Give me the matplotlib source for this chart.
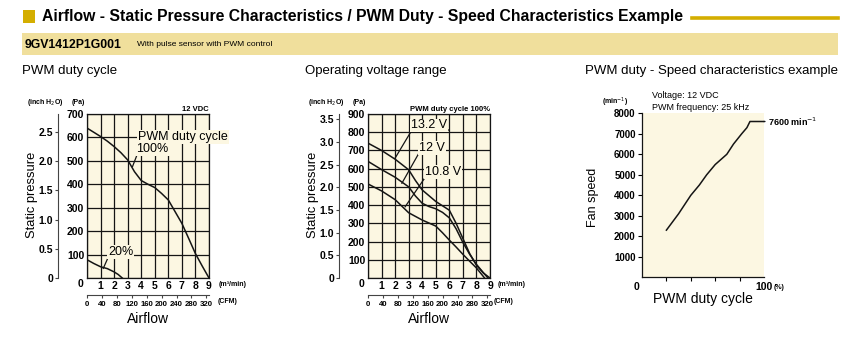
import matplotlib.pyplot as plt
from matplotlib.patches import Rectangle
from matplotlib.lines import Line2D

# --- airflow vs static pressure, 12 VDC, by PWM duty ---
flow_100 = [0, 0.5, 1, 1.5, 2, 2.5, 3, 3.5, 4, 4.5, 5, 5.5, 6, 6.5, 7, 7.5, 8, 8.5, 9]
pa_100 = [640, 622, 604, 584, 561, 535, 504, 454, 416, 400, 386, 361, 333, 283, 233, 169, 104, 51, 0]
flow_20 = [0, 0.5, 1, 1.5, 2, 2.3, 2.6]
pa_20 = [78, 62, 48, 40, 26, 15, 0]

# --- operating voltage range, PWM 100% ---
flow_132 = [0, 1, 2, 3, 3.5, 4, 5, 6, 6.5, 7, 7.5, 8, 8.5, 9]
pa_132 = [740, 700, 652, 594, 535, 483, 420, 372, 300, 217, 134, 70, 28, 0]
flow_120 = [0, 1, 2, 3, 3.5, 4, 4.5, 5, 5.5, 6, 6.5, 7, 7.5, 8, 8.5, 8.85]
pa_120 = [640, 595, 553, 500, 450, 410, 392, 380, 360, 330, 270, 195, 130, 75, 30, 0]
flow_108 = [0, 1, 2, 3, 4, 5, 5.5, 6, 6.5, 7, 7.5, 8, 8.6]
pa_108 = [516, 478, 430, 358, 318, 285, 248, 208, 170, 130, 92, 55, 0]

# --- PWM duty vs fan speed ---
duty = [20, 25, 30, 40, 47, 53, 60, 69.5, 75, 81.7, 86, 88.5, 100]
rpm = [2300, 2700, 3100, 4000, 4500, 5000, 5500, 6000, 6500, 7000, 7300, 7600, 7600]

pa_ticks = [0, 100, 200, 300, 400, 500, 600, 700]
pa_ticks_v = [0, 100, 200, 300, 400, 500, 600, 700, 800, 900]
inch_ticks = [0, 0.5, 1.0, 1.5, 2.0, 2.5]
inch_ticks_v = [0, 0.5, 1.0, 1.5, 2.0, 2.5, 3.0, 3.5]
cfm_ticks = [0, 40, 80, 120, 160, 200, 240, 280, 320]
rpm_ticks = [1000, 2000, 3000, 4000, 5000, 6000, 7000, 8000]

PA_PER_INCH = 249.09
CFM_SPAN = 327   # printed CFM scale length over the 0-9 m3/min width

W, H = 860, 343
SANS = ['Liberation Sans', 'DejaVu Sans']
CREAM = '#FCF7E2'
GOLD = '#D4AE00'
BAND = '#F0DF9C'
INK = '#151515'


def fx(x):
    return x / W


def fy(y):
    return 1 - y / H


def bold_ticks(ax, size=7.5):
    for lbl in ax.get_xticklabels() + ax.get_yticklabels():
        lbl.set_fontfamily(SANS)
        lbl.set_fontweight('bold')
        lbl.set_fontsize(size)


fig = plt.figure(figsize=(8.6, 3.43), dpi=100)

# header
fig.add_artist(Rectangle((fx(22.7), fy(23)), 12.3 / W, 13 / H,
                         transform=fig.transFigure, color=GOLD, lw=0))
fig.text(fx(42), fy(16.5),
         'Airflow - Static Pressure Characteristics / PWM Duty - Speed Characteristics Example',
         fontsize=11.3, fontweight='bold', family=SANS, va='center')
fig.add_artist(Line2D([fx(692), fx(838)], [fy(17.7)] * 2, lw=2.6, color=GOLD,
                      transform=fig.transFigure))
fig.add_artist(Rectangle((fx(22), fy(55)), (838 - 22) / W, 22 / H,
                         transform=fig.transFigure, color=BAND, lw=0))
fig.text(fx(25), fy(44.5), '9GV1412P1G001', fontsize=8.8, fontweight='bold',
         family=SANS, va='center')
fig.text(fx(137), fy(45), 'With pulse sensor with PWM control', fontsize=6,
         family=SANS, va='center')

fig.text(fx(22), fy(71), 'PWM duty cycle', fontsize=9.5, family=SANS, va='center')
fig.text(fx(305), fy(71), 'Operating voltage range', fontsize=9.5, family=SANS, va='center')
fig.text(fx(585), fy(71), 'PWM duty - Speed characteristics example', fontsize=9.5,
         family=SANS, va='center')


def pq_axes(left, ymax, yticks, iticks, inch_x, unit_x, cfm_unit_x, zero_x, top_note):
    ax = fig.add_axes([fx(left), fy(278), 122 / W, 164 / H])
    ax.set_xlim(0, 9)
    ax.set_ylim(0, ymax)
    ax.set_facecolor(CREAM)
    ax.set_xticks(range(10))
    ax.set_xticklabels([''] + [str(i) for i in range(1, 10)])
    ax.set_yticks(yticks)
    ax.set_yticklabels([''] + [str(v) for v in yticks[1:]])
    ax.grid(True, color=INK, lw=0.9)
    ax.set_axisbelow(True)
    for s in ax.spines.values():
        s.set_color(INK)
        s.set_linewidth(0.9)
    ax.tick_params(length=0, pad=2)
    bold_ticks(ax)
    fig.text(fx(zero_x), fy(284), '0', fontsize=7.5, fontweight='bold', family=SANS,
             ha='center', va='center')
    fig.text(fx(unit_x), fy(284), '(m³/min)', fontsize=5, fontweight='bold',
             family=SANS, va='center')

    sec = ax.secondary_yaxis((inch_x - left) / 122,
                             functions=(lambda p: p / PA_PER_INCH, lambda i: i * PA_PER_INCH))
    sec.set_yticks(iticks)
    sec.set_yticklabels(['0'] + [f'{v:.1f}' for v in iticks[1:]])
    sec.tick_params(length=2.5, width=0.8, pad=1, color='#444')
    sec.spines['left'].set_linewidth(0.8)
    sec.spines['left'].set_color('#444')
    bold_ticks(sec)

    cfm = fig.add_axes([fx(left), fy(295), 122 / W, 0.0001])
    cfm.set_xlim(0, CFM_SPAN)
    cfm.set_xticks(cfm_ticks)
    cfm.set_yticks([])
    for side in ('top', 'left', 'right'):
        cfm.spines[side].set_visible(False)
    cfm.spines['bottom'].set_linewidth(0.8)
    cfm.spines['bottom'].set_color('#444')
    cfm.tick_params(axis='x', length=2.5, width=0.8, pad=1.5, color='#444')
    bold_ticks(cfm, 5.6)
    fig.text(fx(cfm_unit_x), fy(301.5), '(CFM)', fontsize=5, fontweight='bold',
             family=SANS, va='center')

    fig.text(fx(inch_x - 31), fy(103), r'(inch H$_2$O)', fontsize=5, fontweight='bold',
             family=SANS, va='center')
    fig.text(fx(inch_x + 14), fy(103), '(Pa)', fontsize=5, fontweight='bold',
             family=SANS, va='center')
    fig.text(fx(inch_x - 26), fy(195), 'Static pressure', fontsize=9.3, family=SANS,
             rotation=90, ha='center', va='center')
    fig.text(fx(left + 61), fy(319), 'Airflow', fontsize=10, family=SANS,
             ha='center', va='center')
    ax.text(1.0, 1.008, top_note, transform=ax.transAxes, ha='right', va='bottom',
            fontsize=5.5, fontweight='bold', family=SANS)
    return ax


def tag(ax, text, tx, ty, line_x, line_y):
    ax.plot(line_x, line_y, color=INK, lw=0.9, clip_on=False)
    ax.text(tx, ty, text, fontsize=9, family=SANS, ha='center', va='center',
            bbox=dict(fc=CREAM, ec='none', pad=0.6), clip_on=False, zorder=4)


# PWM duty cycle chart
ax1 = pq_axes(87, 700, pa_ticks, inch_ticks, 58, 219, 218, 81, '12 VDC')
ax1.plot(flow_100, pa_100, color=INK, lw=1.1, zorder=3)
ax1.plot(flow_20, pa_20, color=INK, lw=1.1, zorder=3)
ax1.text(3.76, 603, 'PWM duty cycle', fontsize=9, family=SANS, ha='left', va='center',
         bbox=dict(fc=CREAM, ec='none', pad=0.6), clip_on=False, zorder=4)
tag(ax1, '100%', 4.84, 550, [3.36, 3.68, 6.05], [476, 524, 524])
tag(ax1, '20%', 2.5, 110, [1.2, 1.53, 3.41], [41, 84, 84])

# operating voltage range chart
ax2 = pq_axes(368, 900, pa_ticks_v, inch_ticks_v, 339, 498, 494, 361.7,
              'PWM duty cycle 100%')
for fl, pa in ((flow_132, pa_132), (flow_120, pa_120), (flow_108, pa_108)):
    ax2.plot(fl, pa, color=INK, lw=1.1, zorder=3)
tag(ax2, '13.2 V', 4.52, 837, [2.0, 3.24, 5.95], [658, 812, 812])
tag(ax2, '12 V', 4.72, 715, [2.5, 3.8, 5.7], [520, 691, 691])
tag(ax2, '10.8 V', 5.52, 582, [2.74, 4.17, 6.89], [391, 547, 547])

# PWM duty vs speed chart
ax3 = fig.add_axes([fx(642), fy(277.3), 122 / W, 164 / H])
ax3.set_xlim(0, 100)
ax3.set_ylim(0, 8000)
ax3.set_facecolor(CREAM)
for side in ('top', 'right'):
    ax3.spines[side].set_visible(False)
for side in ('left', 'bottom'):
    ax3.spines[side].set_linewidth(0.9)
    ax3.spines[side].set_color(INK)
ax3.set_xticks([20, 40, 60, 80])
ax3.set_xticklabels([])
ax3.set_yticks(rpm_ticks)
ax3.tick_params(length=3, width=0.8, pad=1.5)
bold_ticks(ax3, 7)
ax3.plot(duty, rpm, color=INK, lw=1.1)
ax3.annotate(r'7600 min$^{-1}$', xy=(duty[-1], rpm[-1]), xytext=(103, rpm[-1]),
             fontsize=6.5, fontweight='bold', family=SANS, va='center',
             arrowprops=dict(arrowstyle='-', lw=1.1, color=INK, shrinkA=0, shrinkB=0))
fig.text(fx(636), fy(287), '0', fontsize=7.5, fontweight='bold', family=SANS,
         ha='center', va='center')
fig.text(fx(763.5), fy(287), '100', fontsize=7.5, fontweight='bold', family=SANS,
         ha='center', va='center')
fig.text(fx(774), fy(287.5), '(%)', fontsize=5, fontweight='bold', family=SANS,
         va='center')
fig.text(fx(615), fy(102), r'(min$^{-1}$)', fontsize=5, fontweight='bold',
         family=SANS, ha='center', va='center')
fig.text(fx(651.7), fy(96), 'Voltage: 12 VDC', fontsize=6.5, family=SANS, va='center')
fig.text(fx(651.7), fy(107.7), 'PWM frequency: 25 kHz', fontsize=6.5, family=SANS,
         va='center')
fig.text(fx(593), fy(197), 'Fan speed', fontsize=9, family=SANS, rotation=90,
         ha='center', va='center')
fig.text(fx(703), fy(299), 'PWM duty cycle', fontsize=10, family=SANS,
         ha='center', va='center')

fig.savefig('out.png', dpi=100)
